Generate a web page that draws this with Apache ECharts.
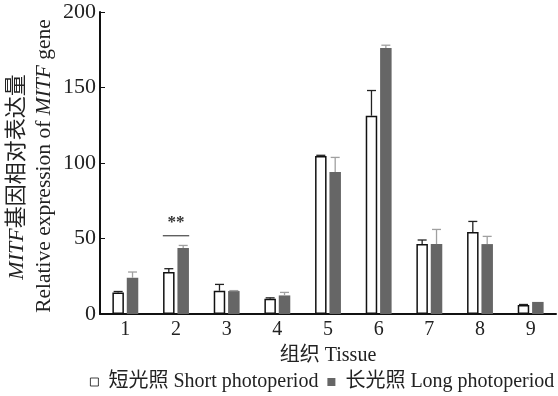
<!DOCTYPE html>
<html>
<head>
<meta charset="utf-8">
<script src="https://cdn.jsdelivr.net/npm/echarts@6/dist/echarts.min.js"></script>
<style>
  html, body { margin: 0; padding: 0; background: #fff; }
  #chart { width: 558px; height: 396px; }
</style>
</head>
<body>
<div id="chart"></div>
<script>
  // tissues 1-9
  const categories = ['1', '2', '3', '4', '5', '6', '7', '8', '9'];
  const shortVals = [14.3, 27.8, 15.4, 10.1, 104.6, 131.3, 46.3, 54.3, 6.0];
  const shortErr  = [0.6, 2.2, 4.2, 0.6, 0.5, 16.7, 2.7, 7.0, 0.3];
  const longVals  = [24.0, 43.7, 15.2, 12.3, 94.0, 176.2, 46.3, 46.3, 8.0];
  const longErr   = [3.8, 1.7, 0.3, 2.0, 9.7, 1.8, 9.7, 5.1, 0];
  const yTicks = [0, 50, 100, 150, 200];
  // ** over tissue 2
  const sigMarks = [[1, 51.8, '**']];

  const FONT = '"Liberation Serif", "Noto Sans CJK SC", serif';
  const BAR_W = 11.5;
  const GAP = 0.25;
  const off = (BAR_W * (1 + GAP)) / 2;

  const chart = echarts.init(document.getElementById('chart'));

  function errItem(shift, color) {
    return function (params, api) {
      const err = api.value(2);
      if (!err) return null;
      const base = api.coord([api.value(0), api.value(1)]);
      const top = api.coord([api.value(0), api.value(1) + err]);
      const x = base[0] + shift;
      const st = { stroke: color, lineWidth: 1.3 };
      return {
        type: 'group',
        children: [
          { type: 'line', shape: { x1: x, y1: base[1], x2: x, y2: top[1] }, style: st },
          { type: 'line', shape: { x1: x - 4.5, y1: top[1], x2: x + 4.5, y2: top[1] }, style: st }
        ]
      };
    };
  }

  const option = {
    animation: false,
    backgroundColor: '#fff',
    textStyle: { fontFamily: FONT },
    grid: { left: 100, right: 2, top: 12, bottom: 82 },
    legend: {
      left: 90,
      top: 372,
      width: 468,
      padding: 0,
      itemWidth: 8,
      itemHeight: 8,
      itemGap: 9,
      icon: 'rect',
      itemStyle: { borderWidth: 0.8 },
      formatter: n => ' ' + n,
      textStyle: { fontFamily: FONT, fontSize: 20, color: '#222' },
      data: ['短光照 Short photoperiod', '长光照 Long photoperiod']
    },
    xAxis: {
      type: 'category',
      data: categories,
      name: '组织 Tissue',
      nameLocation: 'middle',
      nameGap: 32,
      nameTextStyle: { fontFamily: FONT, fontSize: 20, color: '#222' },
      axisLine: { lineStyle: { color: '#111', width: 2 } },
      axisTick: { inside: true, length: 5, lineStyle: { color: '#333' } },
      axisLabel: { fontFamily: FONT, fontSize: 20, color: '#222', margin: 6 }
    },
    yAxis: {
      type: 'value',
      min: yTicks[0],
      max: yTicks[yTicks.length - 1],
      interval: 50,
      axisLine: { show: true, lineStyle: { color: '#111', width: 2 } },
      axisTick: { show: true, inside: true, length: 5, lineStyle: { color: '#111' } },
      axisLabel: { fontFamily: FONT, fontSize: 22, color: '#222', margin: 4 },
      splitLine: { show: false }
    },
    graphic: [
      {
        type: 'text',
        x: 17, y: 177,
        rotation: Math.PI / 2,
        style: {
          text: '{i|MITF}基因相对表达量',
          fontFamily: FONT, fontSize: 22, fill: '#222',
          align: 'center', verticalAlign: 'middle',
          rich: { i: { fontStyle: 'italic', fontFamily: FONT, fontSize: 22 } }
        }
      },
      {
        type: 'text',
        x: 44, y: 166,
        rotation: Math.PI / 2,
        style: {
          text: 'Relative expression of {i|MITF} gene',
          fontFamily: FONT, fontSize: 21.5, fill: '#222',
          align: 'center', verticalAlign: 'middle',
          rich: { i: { fontStyle: 'italic', fontFamily: FONT, fontSize: 21.5 } }
        }
      }
    ],
    series: [
      {
        name: '短光照 Short photoperiod',
        type: 'bar',
        data: shortVals,
        barWidth: BAR_W,
        barGap: (GAP * 100) + '%',
        itemStyle: { color: '#fff', borderColor: '#111', borderWidth: 1.5 }
      },
      {
        name: '长光照 Long photoperiod',
        type: 'bar',
        data: longVals,
        barWidth: BAR_W,
        itemStyle: { color: '#666' }
      },
      {
        type: 'custom',
        renderItem: errItem(-off, '#222'),
        data: shortVals.map((v, i) => [i, v, shortErr[i]]),
        encode: { x: 0, y: 1 },
        z: 3
      },
      {
        type: 'custom',
        renderItem: errItem(off, '#a0a0a0'),
        data: longVals.map((v, i) => [i, v, longErr[i]]),
        encode: { x: 0, y: 1 },
        z: 3
      },
      {
        type: 'custom',
        renderItem: function (params, api) {
          const p = api.coord([api.value(0), api.value(1)]);
          const half = off + 6;
          return {
            type: 'group',
            children: [
              { type: 'line', shape: { x1: p[0] - half, y1: p[1], x2: p[0] + half, y2: p[1] },
                style: { stroke: '#222', lineWidth: 1 } },
              { type: 'text', x: p[0], y: p[1] - 13,
                style: { text: sigMarks[params.dataIndex][2], fontFamily: FONT, fontSize: 17,
                  fontWeight: 'bold', fill: '#333', align: 'center', verticalAlign: 'middle' } }
            ]
          };
        },
        data: sigMarks.map(d => [d[0], d[1]]),
        encode: { x: 0, y: 1 },
        z: 4
      }
    ]
  };

  chart.setOption(option);
  window.addEventListener('resize', function () {
    chart.resize();
  });
</script>
</body>
</html>
